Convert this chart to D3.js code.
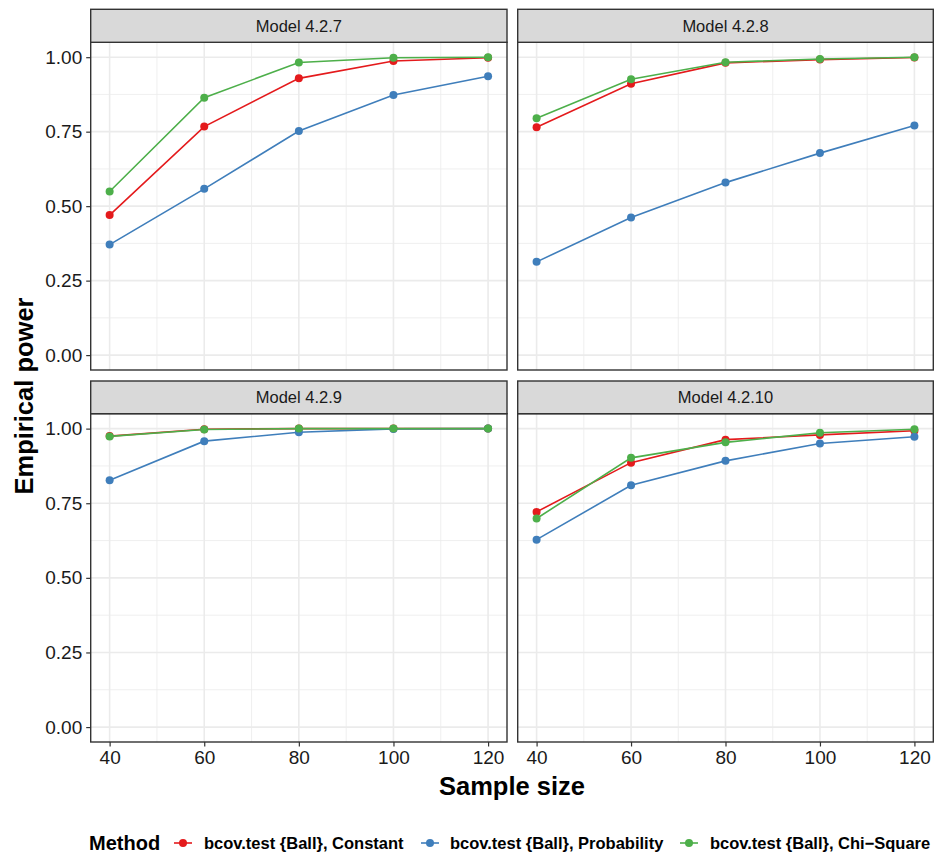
<!DOCTYPE html>
<html><head><meta charset="utf-8">
<script src="https://cdn.jsdelivr.net/npm/d3@7"></script>
<style>body{margin:0;background:#fff;} text{font-family:"Liberation Sans",Arial,sans-serif;}</style>
</head><body><svg id="c" width="938" height="860"></svg>
<script>
const sampleSizes = [40, 60, 80, 100, 120];
const panels = ["Model 4.2.7", "Model 4.2.8", "Model 4.2.9", "Model 4.2.10"];
const methods = ["bcov.test {Ball}, Constant", "bcov.test {Ball}, Probability", "bcov.test {Ball}, Chi\u2212Square"];
const colors = ["#E41A1C", "#3F7EBB", "#4DAF4A"];
// values per panel, per method
const constantVals = [
  [0.47, 0.767, 0.929, 0.987, 0.998],
  [0.765, 0.911, 0.981, 0.992, 0.999],
  [0.975, 0.998, 1.0, 1.0, 1.0],
  [0.721, 0.886, 0.963, 0.979, 0.993]
];
const probabilityVals = [
  [0.371, 0.558, 0.752, 0.873, 0.936],
  [0.313, 0.462, 0.579, 0.678, 0.771],
  [0.827, 0.958, 0.988, 0.999, 1.0],
  [0.628, 0.810, 0.892, 0.950, 0.973]
];
const chiSquareVals = [
  [0.549, 0.864, 0.982, 0.998, 1.0],
  [0.795, 0.926, 0.983, 0.994, 1.0],
  [0.974, 0.997, 1.0, 1.0, 1.0],
  [0.699, 0.902, 0.954, 0.986, 0.998]
];
const yTicks = [0, 0.25, 0.5, 0.75, 1.0];
const yTickLabels = ["0.00", "0.25", "0.50", "0.75", "1.00"];
const xTicks = [40, 60, 80, 100, 120];
const allVals = [constantVals, probabilityVals, chiSquareVals];

const svg = d3.select("#c");
const colX = [[90.7, 507], [517.7, 933.3]];
const rowY = [[9.3, 42.3, 370], [381, 413.7, 742]]; // strip top, plot top, plot bottom
const gridCol = "#EBEBEB", borderCol = "#333333";

panels.forEach((name, pi) => {
  const c = pi % 2, r = Math.floor(pi / 2);
  const [x0, x1] = colX[c];
  const [sTop, pTop, pBot] = rowY[r];
  const x = d3.scaleLinear().domain([36, 124]).range([x0, x1]);
  const y = d3.scaleLinear().domain([-0.05, 1.05]).range([pBot, pTop]);
  const g = svg.append("g");
  g.append("rect").attr("x", x0).attr("y", pTop).attr("width", x1 - x0).attr("height", pBot - pTop).attr("fill", "#fff");
  // minor grid
  const xMinor = d3.range(50, 121, 20);
  const yMinor = [0.125, 0.375, 0.625, 0.875];
  g.selectAll(".xm").data(xMinor).join("line").attr("x1", d => x(d)).attr("x2", d => x(d)).attr("y1", pTop).attr("y2", pBot).attr("stroke", gridCol).attr("stroke-width", 0.8);
  g.selectAll(".ym").data(yMinor).join("line").attr("y1", d => y(d)).attr("y2", d => y(d)).attr("x1", x0).attr("x2", x1).attr("stroke", gridCol).attr("stroke-width", 0.8);
  g.selectAll(".xM").data(xTicks).join("line").attr("x1", d => x(d)).attr("x2", d => x(d)).attr("y1", pTop).attr("y2", pBot).attr("stroke", gridCol).attr("stroke-width", 1.6);
  g.selectAll(".yM").data(yTicks).join("line").attr("y1", d => y(d)).attr("y2", d => y(d)).attr("x1", x0).attr("x2", x1).attr("stroke", gridCol).attr("stroke-width", 1.6);
  // series
  const line = d3.line().x((d, i) => x(sampleSizes[i])).y(d => y(d));
  allVals.forEach((vals, mi) => {
    const data = vals[pi];
    g.append("path").attr("d", line(data)).attr("fill", "none").attr("stroke", colors[mi]).attr("stroke-width", 1.6);
    g.selectAll(".pt" + mi).data(data).join("circle").attr("cx", (d, i) => x(sampleSizes[i])).attr("cy", d => y(d)).attr("r", 4).attr("fill", colors[mi]);
  });
  // border
  g.append("rect").attr("x", x0).attr("y", pTop).attr("width", x1 - x0).attr("height", pBot - pTop).attr("fill", "none").attr("stroke", borderCol).attr("stroke-width", 1.4);
  // strip
  g.append("rect").attr("x", x0).attr("y", sTop).attr("width", x1 - x0).attr("height", pTop - sTop).attr("fill", "#D9D9D9").attr("stroke", borderCol).attr("stroke-width", 1.4);
  g.append("text").attr("x", (x0 + x1) / 2).attr("y", (sTop + pTop) / 2).attr("dy", "0.36em").attr("text-anchor", "middle").attr("font-size", "16.5px").attr("fill", "#1A1A1A").text(name);
  // axes
  if (c === 0) {
    const ax = g.append("g").attr("transform", `translate(${x0},0)`).call(d3.axisLeft(y).tickValues(yTicks).tickFormat((d, i) => yTickLabels[i]).tickSize(4.5).tickPadding(4));
    ax.select(".domain").remove();
    ax.selectAll("line").attr("stroke", borderCol).attr("stroke-width", 1.2);
    ax.selectAll("text").attr("font-size", "19px").attr("fill", "#1A1A1A").attr("font-family", "Liberation Sans, Arial, sans-serif");
  }
  if (r === 1) {
    const ax = g.append("g").attr("transform", `translate(0,${pBot})`).call(d3.axisBottom(x).tickValues(xTicks).tickSize(4.5).tickPadding(4));
    ax.select(".domain").remove();
    ax.selectAll("line").attr("stroke", borderCol).attr("stroke-width", 1.2);
    ax.selectAll("text").attr("font-size", "19px").attr("fill", "#1A1A1A").attr("font-family", "Liberation Sans, Arial, sans-serif");
  }
});

// axis titles
svg.append("text").attr("x", 512).attr("y", 795).attr("text-anchor", "middle").attr("font-size", "25.5px").attr("font-weight", "bold").text("Sample size");
svg.append("text").attr("transform", "translate(33,396) rotate(-90)").attr("text-anchor", "middle").attr("font-size", "25.5px").attr("font-weight", "bold").text("Empirical power");

// legend
const ly = 843;
svg.append("text").attr("x", 89).attr("y", ly).attr("dy", "0.36em").attr("font-size", "20px").attr("font-weight", "bold").text("Method");
const keyX = [174, 421, 680];
const txtX = [204, 450, 710];
methods.forEach((m, i) => {
  svg.append("line").attr("x1", keyX[i]).attr("x2", keyX[i] + 18).attr("y1", ly).attr("y2", ly).attr("stroke", colors[i]).attr("stroke-width", 1.6);
  svg.append("circle").attr("cx", keyX[i] + 9).attr("cy", ly).attr("r", 4).attr("fill", colors[i]);
  svg.append("text").attr("x", txtX[i]).attr("y", ly).attr("dy", "0.36em").attr("font-size", "16.5px").attr("font-weight", "bold").text(m);
});
</script></body></html>
